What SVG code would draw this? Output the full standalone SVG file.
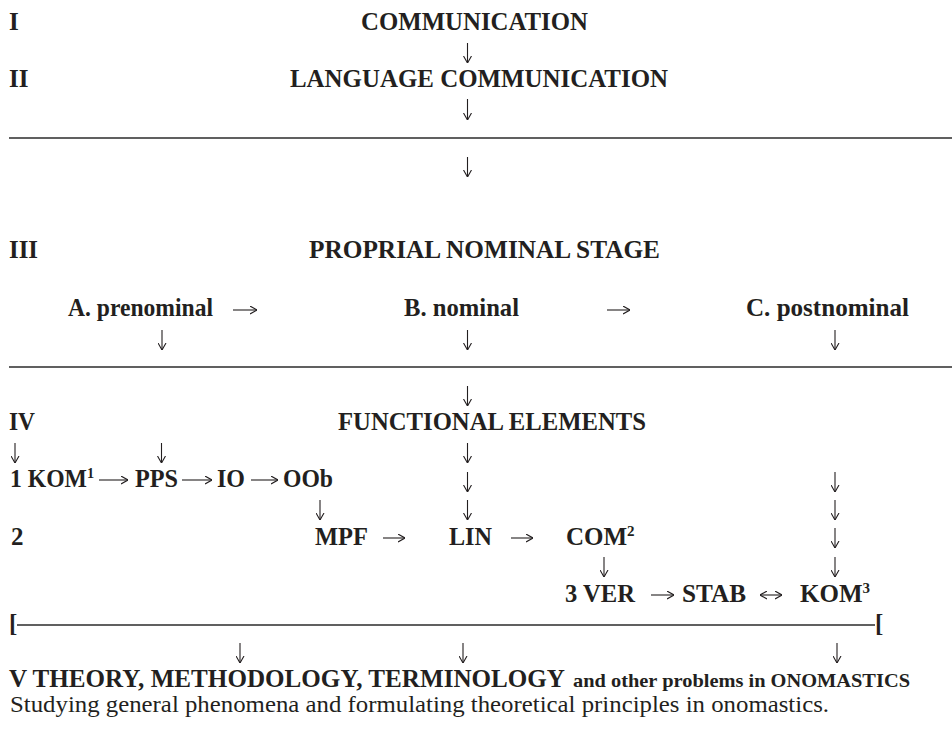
<svg xmlns="http://www.w3.org/2000/svg" width="952" height="750" viewBox="0 0 952 750">
<style>
.b{font-family:"Liberation Serif","Times New Roman",serif;font-weight:bold;font-size:25px;fill:#231f20}
.s{font-family:"Liberation Serif","Times New Roman",serif;font-weight:bold;font-size:19px;fill:#231f20}
.r{font-family:"Liberation Serif","Times New Roman",serif;font-weight:normal;font-size:24px;fill:#231f20}
.sup{font-size:15px}
.a{stroke:#231f20;stroke-width:1.1;fill:none;marker-end:url(#ah)}
.d{stroke:#231f20;stroke-width:1.1;fill:none;marker-end:url(#ah);marker-start:url(#ah)}
.sep{stroke:#2b2b2b;stroke-width:1.6;fill:none}
</style>
<defs>
<marker id="ah" viewBox="0 0 7 9" refX="7" refY="4.5" markerWidth="7" markerHeight="9" markerUnits="userSpaceOnUse" orient="auto-start-reverse">
<path d="M0,0.5 L7,4.5 L0,8.5" fill="none" stroke="#231f20" stroke-width="1.1"/>
</marker>
</defs>
<rect width="952" height="750" fill="#ffffff"/>

<g id="connectors">
<line class="a" x1="467.5" y1="43" x2="467.5" y2="63"/>
<line class="a" x1="467.5" y1="99" x2="467.5" y2="120"/>
<line class="sep" x1="9" y1="138" x2="952" y2="138"/>
<line class="a" x1="467.5" y1="157" x2="467.5" y2="177"/>
<line class="a" x1="233" y1="310" x2="257" y2="310"/>
<line class="a" x1="607" y1="310" x2="630" y2="310"/>
<line class="a" x1="162" y1="330" x2="162" y2="350"/>
<line class="a" x1="467.5" y1="330" x2="467.5" y2="350"/>
<line class="a" x1="835" y1="330" x2="835" y2="350"/>
<line class="sep" x1="9" y1="367" x2="952" y2="367"/>
<line class="a" x1="467.5" y1="386" x2="467.5" y2="406"/>
<line class="a" x1="15" y1="443" x2="15" y2="463"/>
<line class="a" x1="161.5" y1="443" x2="161.5" y2="463"/>
<line class="a" x1="467.5" y1="443" x2="467.5" y2="463"/>
<line class="a" x1="99" y1="480" x2="128" y2="480"/>
<line class="a" x1="182" y1="480" x2="212" y2="480"/>
<line class="a" x1="251" y1="480" x2="278" y2="480"/>
<line class="a" x1="467.5" y1="472" x2="467.5" y2="492"/>
<line class="a" x1="835" y1="472" x2="835" y2="492"/>
<line class="a" x1="320" y1="500" x2="320" y2="520"/>
<line class="a" x1="467.5" y1="500" x2="467.5" y2="520"/>
<line class="a" x1="835" y1="500" x2="835" y2="520"/>
<line class="a" x1="383" y1="538" x2="405" y2="538"/>
<line class="a" x1="511" y1="538" x2="533" y2="538"/>
<line class="a" x1="835" y1="528" x2="835" y2="548"/>
<line class="a" x1="604" y1="557" x2="604" y2="577"/>
<line class="a" x1="835" y1="557" x2="835" y2="577"/>
<line class="a" x1="651" y1="595" x2="674" y2="595"/>
<line class="d" x1="760" y1="595" x2="782" y2="595"/>
<line class="sep" x1="17" y1="625" x2="875" y2="625"/>
<line class="a" x1="240" y1="643" x2="240" y2="663"/>
<line class="a" x1="463" y1="643" x2="463" y2="663"/>
<line class="a" x1="837" y1="643" x2="837" y2="663"/>
</g>

<g id="level-I"><text class="b" x="9" y="30">I</text></g>
<g id="communication"><text class="b" x="361" y="30" textLength="227" lengthAdjust="spacingAndGlyphs">COMMUNICATION</text></g>
<g id="level-II"><text class="b" x="9" y="87">II</text></g>
<g id="language-communication"><text class="b" x="290" y="87" textLength="378" lengthAdjust="spacingAndGlyphs">LANGUAGE COMMUNICATION</text></g>
<g id="level-III"><text class="b" x="9" y="258" textLength="29" lengthAdjust="spacingAndGlyphs">III</text></g>
<g id="proprial-nominal-stage"><text class="b" x="309" y="258" textLength="351" lengthAdjust="spacingAndGlyphs">PROPRIAL NOMINAL STAGE</text></g>
<g id="prenominal"><text class="b" x="68" y="316" textLength="145" lengthAdjust="spacingAndGlyphs">A. prenominal</text></g>
<g id="nominal"><text class="b" x="404" y="316" textLength="115" lengthAdjust="spacingAndGlyphs">B. nominal</text></g>
<g id="postnominal"><text class="b" x="746" y="316" textLength="163" lengthAdjust="spacingAndGlyphs">C. postnominal</text></g>
<g id="level-IV"><text class="b" x="9" y="430" textLength="26" lengthAdjust="spacingAndGlyphs">IV</text></g>
<g id="functional-elements"><text class="b" x="338" y="430" textLength="308" lengthAdjust="spacingAndGlyphs">FUNCTIONAL ELEMENTS</text></g>
<g id="kom1"><text class="b" x="10" y="487" textLength="84" lengthAdjust="spacingAndGlyphs">1 KOM<tspan class="sup" dy="-9">1</tspan></text></g>
<g id="pps"><text class="b" x="135" y="487" textLength="43" lengthAdjust="spacingAndGlyphs">PPS</text></g>
<g id="io"><text class="b" x="217" y="487" textLength="28" lengthAdjust="spacingAndGlyphs">IO</text></g>
<g id="oob"><text class="b" x="283" y="487" textLength="50" lengthAdjust="spacingAndGlyphs">OOb</text></g>
<g id="row-2"><text class="b" x="11" y="545">2</text></g>
<g id="mpf"><text class="b" x="315" y="545" textLength="53" lengthAdjust="spacingAndGlyphs">MPF</text></g>
<g id="lin"><text class="b" x="449" y="545" textLength="43" lengthAdjust="spacingAndGlyphs">LIN</text></g>
<g id="com2"><text class="b" x="566" y="545">COM<tspan class="sup" dy="-9">2</tspan></text></g>
<g id="ver"><text class="b" x="565" y="602" textLength="70" lengthAdjust="spacingAndGlyphs">3 VER</text></g>
<g id="stab"><text class="b" x="682" y="602" textLength="64" lengthAdjust="spacingAndGlyphs">STAB</text></g>
<g id="kom3"><text class="b" x="800" y="602">KOM<tspan class="sup" dy="-9">3</tspan></text></g>
<g id="bracket-left"><text class="b" x="9" y="632">[</text></g>
<g id="bracket-right"><text class="b" x="875" y="632">[</text></g>
<g id="level-V">
<text class="b" x="9" y="687" textLength="556" lengthAdjust="spacingAndGlyphs">V THEORY, METHODOLOGY, TERMINOLOGY</text>
<text class="s" x="573" y="687" textLength="337" lengthAdjust="spacingAndGlyphs">and other problems in ONOMASTICS</text>
</g>
<g id="description"><text class="r" x="10" y="712" textLength="819" lengthAdjust="spacingAndGlyphs">Studying general phenomena and formulating theoretical principles in onomastics.</text></g>
</svg>
